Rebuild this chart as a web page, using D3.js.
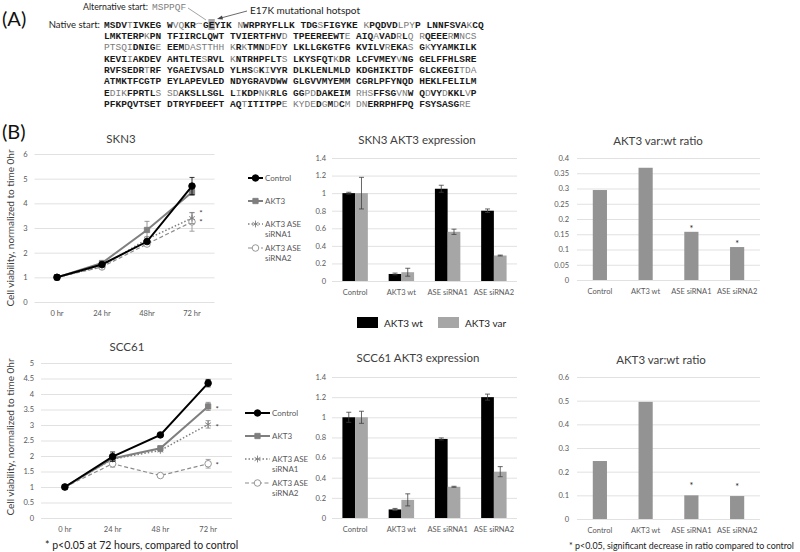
<!DOCTYPE html>
<html>
<head>
<meta charset="utf-8">
<script src="https://cdn.jsdelivr.net/npm/d3@7"></script>
<style>
body { margin: 0; background: #fff; }
svg text { font-family: Lato, "Open Sans", sans-serif; }
svg .seq text { font-family: "Liberation Mono", "Courier New", monospace; font-size: 9.5px; }
</style>
</head>
<body>
<div id="figure"></div>
<script>
// (A) sequence: upper case = bold residue, lower case = faint residue
const altStart = "MSPPQF";
const nativeStart = "MSDVtIVKEG WvqKR";
const seqRows = [
  "GEYIK nWRPRYFLLK TDGsFIGYKE kPQDVDlpyP LNNFSVAkCQ",
  "LMKTERPkPN TFIIRCLQWT TVIERTFHVd TPEEREEWTe AIQaVADrLq rQEEErMncs",
  "ptsqiDNIGe EEMdastthh kRkTMNdFdY LKLLGKGTFG KVILVrEKAs GkYYAMKILK",
  "KEVIiAKDEV AHTLTEsRVL kNTRHPFLTs LKYSFQTkDR LCFVMEYvNG GELFFHLSRE",
  "RVFSEDRtRF YGAEIVSALD YLHSgKiVYR DLKLENLMLD KDGHIKITDF GLCKEGItda",
  "ATMKTFCGTP EYLAPEVLED NDYGRAVDWW GLGVVMYEMM CGRLPFYNQD HEKLFELILM",
  "EdikFPRTLs sdAKSLLSGL LiKDPnkRLG GGpdDAKEIM rhsFFSGvnW QdVYdKKLvP",
  "PFKPQVTSET DTRYFDEEFT AQtITITPPe kydeDgMdCm dnERRPHFPQ FSYSASGre"
];

// (B) growth curves
const timeSkn3 = ["0 hr", "24 hr", "48hr", "72 hr"];
const timeScc61 = ["0 hr", "24 hr", "48 hr", "72 hr"];
const seriesNames = ["Control", "AKT3", "AKT3 ASE siRNA1", "AKT3 ASE siRNA2"];
const growthTicksSkn3 = [0, 1, 2, 3, 4, 5, 6];
const growthTicksScc61 = [0, 0.5, 1, 1.5, 2, 2.5, 3, 3.5, 4, 4.5, 5];

const skn3Control = [1.0, 1.52, 2.45, 4.7];
const skn3ControlErr = [0.1, 0.05, 0.08, 0.35];
const skn3Akt3 = [1.0, 1.58, 2.92, 4.45];
const skn3Akt3Err = [0.06, 0.05, 0.35, 0.12];
const skn3Si1 = [1.0, 1.45, 2.55, 3.4];
const skn3Si1Err = [0.05, 0.04, 0.1, 0.22];
const skn3Si2 = [1.0, 1.42, 2.35, 3.25];
const skn3Si2Err = [0.05, 0.04, 0.08, 0.38];
const skn3Stars = [false, false, true, true];

const scc61Control = [1.0, 1.98, 2.68, 4.35];
const scc61ControlErr = [0.03, 0.15, 0.04, 0.12];
const scc61Akt3 = [1.0, 1.92, 2.25, 3.6];
const scc61Akt3Err = [0.03, 0.05, 0.06, 0.13];
const scc61Si1 = [1.0, 1.9, 2.18, 3.02];
const scc61Si1Err = [0.03, 0.05, 0.04, 0.12];
const scc61Si2 = [1.0, 1.75, 1.37, 1.75];
const scc61Si2Err = [0.03, 0.11, 0.02, 0.14];
const scc61Stars = [false, true, true, true];

// expression bars
const exprCats = ["Control", "AKT3 wt", "ASE siRNA1", "ASE siRNA2"];
const exprTicks = [0, 0.2, 0.4, 0.6, 0.8, 1, 1.2, 1.4];
const skn3Wt = [1.0, 0.08, 1.05, 0.8];
const skn3WtErr = [0.01, 0.01, 0.04, 0.02];
const skn3Var = [1.0, 0.1, 0.56, 0.29];
const skn3VarErr = [0.18, 0.045, 0.03, 0.005];
const scc61Wt = [1.0, 0.085, 0.785, 1.2];
const scc61WtErr = [0.05, 0.01, 0.01, 0.03];
const scc61Var = [1.0, 0.18, 0.31, 0.46];
const scc61VarErr = [0.06, 0.06, 0.005, 0.05];

// var:wt ratio
const ratioTicksSkn3 = [0, 0.05, 0.1, 0.15, 0.2, 0.25, 0.3, 0.35, 0.4];
const ratioTicksScc61 = [0, 0.1, 0.2, 0.3, 0.4, 0.5, 0.6];
const skn3Ratio = [0.295, 0.368, 0.158, 0.108];
const scc61Ratio = [0.245, 0.495, 0.1, 0.097];
const ratioStars = [false, false, true, true];

const svg = d3.select("#figure").append("svg")
  .attr("width", 800)
  .attr("height", 552);

const fmt = d => String(+d.toFixed(2));
const gridColor = "#d9d9d9";
const tickColor = "#595959";

// ---------- panel A ----------
const seq = svg.append("g").attr("class", "seq");
const cw = 5.73;

function drawResidues(str, x0, yb) {
  const chars = str.split("").map((c, i) => ({c: c, i: i})).filter(d => d.c !== " ");
  seq.append("g").selectAll("text")
    .data(chars)
    .join("text")
    .attr("x", d => x0 + d.i * cw)
    .attr("y", yb)
    .attr("font-weight", d => d.c === d.c.toUpperCase() ? "bold" : "normal")
    .attr("fill", d => d.c === d.c.toUpperCase() ? "#1a1a1a" : "#7a7a7a")
    .text(d => d.c.toUpperCase());
}

const rowY = i => 27.5 + i * 11.36;

// E17K highlight box
seq.append("rect")
  .attr("x", 203 + cw - 0.3).attr("y", rowY(0) - 8.5)
  .attr("width", cw + 0.6).attr("height", 11)
  .attr("fill", "#a6a6a6");

drawResidues(nativeStart, 104, rowY(0));
drawResidues(seqRows[0], 203, rowY(0));
seqRows.slice(1).forEach((r, i) => drawResidues(r, 104, rowY(i + 1)));

svg.append("text").attr("x", 2).attr("y", 26).attr("font-size", 20).attr("fill", "#111").text("(A)");

svg.append("text").attr("x", 100).attr("y", rowY(0)).attr("text-anchor", "end")
  .attr("font-size", 9.5).attr("fill", "#222").text("Native start:");

svg.append("text").attr("x", 83).attr("y", 9.5)
  .attr("font-size", 8.8).attr("fill", "#222").text("Alternative start:");
seq.append("text").attr("x", 152).attr("y", 9.5).attr("fill", "#808080").text(altStart);

svg.append("text").attr("x", 250).attr("y", 13.5)
  .attr("font-size", 10).attr("fill", "#222").text("E17K mutational hotspot");

// connector lines
svg.append("path").attr("d", "M188,8 L206,20").attr("stroke", "#8c8c8c").attr("stroke-width", 0.8).attr("fill", "none");
svg.append("path").attr("d", "M195,24.5 Q198,22.5 202,23.5").attr("stroke", "#8c8c8c").attr("stroke-width", 0.8).attr("fill", "none");
svg.append("path").attr("d", "M247,11 L219,18.5").attr("stroke", "#444").attr("stroke-width", 0.8).attr("fill", "none");
svg.append("path").attr("d", "M217,19 L222,15.6 L223,19.4 Z").attr("fill", "#444");

// ---------- panel B ----------
svg.append("text").attr("x", 2).attr("y", 139).attr("font-size", 20).attr("fill", "#111").text("(B)");

const styles = [
  {color: "#000000", width: 2, dash: null, symbol: d3.symbolCircle, size: 34, fill: "#000000"},
  {color: "#7f7f7f", width: 2, dash: null, symbol: d3.symbolSquare, size: 28, fill: "#7f7f7f"},
  {color: "#7f7f7f", width: 1.5, dash: "1.5,2", symbol: d3.symbolAsterisk, size: 32, fill: "none"},
  {color: "#8c8c8c", width: 1.2, dash: "4,2.5", symbol: d3.symbolCircle, size: 34, fill: "#ffffff"}
];

function yGrid(g, y, ticks, x0, x1, pad) {
  g.append("g")
    .attr("transform", `translate(${x0},0)`)
    .call(d3.axisLeft(y).tickValues(ticks).tickSize(-(x1 - x0)).tickPadding(pad).tickFormat(fmt))
    .call(a => a.select(".domain").remove())
    .call(a => a.selectAll("line").attr("stroke", gridColor).attr("stroke-width", 0.8))
    .call(a => a.selectAll("text").attr("fill", tickColor).attr("font-size", 7.5));
}

function title(txt, x, y) {
  svg.append("text").attr("x", x).attr("y", y).attr("text-anchor", "middle")
    .attr("font-size", 11.5).attr("fill", "#404040").text(txt);
}

function drawGrowth(o) {
  const g = svg.append("g");
  const x = d3.scalePoint().domain(o.labels).range([o.x0, o.x1]).padding(0.5);
  const y = d3.scaleLinear().domain([0, d3.max(o.ticks)]).range([o.y0, o.y1]);

  // Add Y grid
  yGrid(g, y, o.ticks, o.x0, o.x1, 7);

  // Add X labels
  g.append("g").selectAll("text")
    .data(o.labels)
    .join("text")
    .attr("x", d => x(d))
    .attr("y", o.y0 + 14)
    .attr("text-anchor", "middle")
    .attr("font-size", 7.5)
    .attr("fill", tickColor)
    .text(d => d);

  title(o.title, o.titleX, o.titleY);

  svg.append("text")
    .attr("transform", `translate(14,${o.labelY}) rotate(-90)`)
    .attr("text-anchor", "middle")
    .attr("font-size", 10)
    .attr("fill", "#404040")
    .text("Cell viability, normalized to time 0hr");

  // draw series back to front
  [3, 2, 1, 0].forEach(k => {
    const s = styles[k];
    const vals = o.series[k], errs = o.errors[k];
    const pts = vals.map((v, i) => ({t: o.labels[i], v: v, e: errs[i]}));

    // error bars
    const eb = g.append("g").attr("stroke", s.color).attr("stroke-width", 0.8);
    pts.forEach(p => {
      eb.append("line").attr("x1", x(p.t)).attr("x2", x(p.t)).attr("y1", y(p.v - p.e)).attr("y2", y(p.v + p.e));
      eb.append("line").attr("x1", x(p.t) - 2.5).attr("x2", x(p.t) + 2.5).attr("y1", y(p.v - p.e)).attr("y2", y(p.v - p.e));
      eb.append("line").attr("x1", x(p.t) - 2.5).attr("x2", x(p.t) + 2.5).attr("y1", y(p.v + p.e)).attr("y2", y(p.v + p.e));
    });

    g.append("path")
      .datum(pts)
      .attr("fill", "none")
      .attr("stroke", s.color)
      .attr("stroke-width", s.width)
      .attr("stroke-dasharray", s.dash)
      .attr("d", d3.line().x(p => x(p.t)).y(p => y(p.v)));

    g.append("g").selectAll("path")
      .data(pts)
      .join("path")
      .attr("transform", p => `translate(${x(p.t)},${y(p.v)})`)
      .attr("d", d3.symbol().type(s.symbol).size(s.size))
      .attr("fill", s.fill)
      .attr("stroke", s.color)
      .attr("stroke-width", 0.9);
  });

  // significance stars at 72 hr
  const last = o.labels[o.labels.length - 1];
  o.series.forEach((vals, k) => {
    if (!o.stars[k]) return;
    g.append("text")
      .attr("x", x(last) + 9)
      .attr("y", y(vals[vals.length - 1]) + o.starDy[k] + 4)
      .attr("text-anchor", "middle")
      .attr("font-size", 8)
      .attr("fill", "#404040")
      .text("*");
  });

  // legend
  seriesNames.forEach((name, k) => {
    const s = styles[k];
    const ly = o.legendY[k];
    const lg = svg.append("g");
    lg.append("line")
      .attr("x1", o.legendX).attr("x2", o.legendX + o.legendLen)
      .attr("y1", ly).attr("y2", ly)
      .attr("stroke", s.color).attr("stroke-width", s.width).attr("stroke-dasharray", s.dash);
    lg.append("path")
      .attr("transform", `translate(${o.legendX + o.legendLen / 2},${ly})`)
      .attr("d", d3.symbol().type(s.symbol).size(s.size))
      .attr("fill", s.fill).attr("stroke", s.color).attr("stroke-width", 0.9);
    const lines = name.length > 8 ? ["AKT3 ASE", name.split(" ")[2]] : [name];
    lines.forEach((t, j) => {
      lg.append("text")
        .attr("x", o.legendX + o.legendLen + 2)
        .attr("y", ly + 3 + j * 10)
        .attr("font-size", 8)
        .attr("fill", tickColor)
        .text(t);
    });
  });
}

function catLabels(g, x, y0, dy) {
  g.append("g").selectAll("text")
    .data(exprCats)
    .join("text")
    .attr("x", d => x(d) + x.bandwidth() / 2)
    .attr("y", y0 + dy)
    .attr("text-anchor", "middle")
    .attr("font-size", 7.5)
    .attr("fill", tickColor)
    .text(d => d);
}

function errBar(g, cx, y, v, e) {
  g.append("line").attr("x1", cx).attr("x2", cx).attr("y1", y(v - e)).attr("y2", y(v + e));
  g.append("line").attr("x1", cx - 2.5).attr("x2", cx + 2.5).attr("y1", y(v + e)).attr("y2", y(v + e));
  g.append("line").attr("x1", cx - 2.5).attr("x2", cx + 2.5).attr("y1", y(v - e)).attr("y2", y(v - e));
}

function drawExpression(o) {
  const g = svg.append("g");
  const x = d3.scaleBand().domain(exprCats).range([o.x0, o.x1]).paddingInner(0.45).paddingOuter(0.225);
  const xs = d3.scaleBand().domain(["wt", "var"]).range([0, x.bandwidth()]);
  const y = d3.scaleLinear().domain([0, 1.4]).range([o.y0, o.y1]);

  yGrid(g, y, exprTicks, o.x0, o.x1, 6);

  const rows = exprCats.map((c, i) => [
    {c: c, k: "wt", v: o.wt[i], e: o.wtErr[i]},
    {c: c, k: "var", v: o.var[i], e: o.varErr[i]}
  ]).flat();

  g.append("g").selectAll("rect")
    .data(rows)
    .join("rect")
    .attr("x", d => x(d.c) + xs(d.k))
    .attr("y", d => y(d.v))
    .attr("width", xs.bandwidth())
    .attr("height", d => y(0) - y(d.v))
    .attr("fill", d => d.k === "wt" ? "#000000" : "#a6a6a6");

  const eb = g.append("g").attr("stroke", "#404040").attr("stroke-width", 0.8);
  rows.forEach(d => errBar(eb, x(d.c) + xs(d.k) + xs.bandwidth() / 2, y, d.v, d.e));

  catLabels(g, x, o.y0, 14);
  title(o.title, o.titleX, o.titleY);
}

function drawRatio(o) {
  const g = svg.append("g");
  const x = d3.scaleBand().domain(exprCats).range([o.x0, o.x1]).paddingInner(0.69).paddingOuter(0.345);
  const y = d3.scaleLinear().domain([0, d3.max(o.ticks)]).range([o.y0, o.y1]);

  yGrid(g, y, o.ticks, o.x0, o.x1, 8);

  g.append("g").selectAll("rect")
    .data(exprCats.map((c, i) => ({c: c, v: o.values[i], s: ratioStars[i]})))
    .join("rect")
    .attr("x", d => x(d.c))
    .attr("y", d => y(d.v))
    .attr("width", x.bandwidth())
    .attr("height", d => y(0) - y(d.v))
    .attr("fill", "#939393");

  g.append("g").selectAll("text")
    .data(exprCats.map((c, i) => ({c: c, v: o.values[i], s: ratioStars[i]})).filter(d => d.s))
    .join("text")
    .attr("x", d => x(d.c) + x.bandwidth() / 2)
    .attr("y", d => y(d.v) - o.starGap + 5)
    .attr("text-anchor", "middle")
    .attr("font-size", 9)
    .attr("fill", "#222")
    .text("*");

  catLabels(g, x, o.y0, 14);
  title(o.title, o.titleX, o.titleY);
}

// SKN3 row
drawGrowth({
  labels: timeSkn3, ticks: growthTicksSkn3,
  x0: 34.5, x1: 214.5, y0: 302, y1: 154,
  series: [skn3Control, skn3Akt3, skn3Si1, skn3Si2],
  errors: [skn3ControlErr, skn3Akt3Err, skn3Si1Err, skn3Si2Err],
  stars: skn3Stars, starDy: [0, 0, -6, -1],
  title: "SKN3", titleX: 121, titleY: 143, labelY: 228,
  legendX: 248, legendLen: 15, legendY: [178, 201, 224, 248]
});
drawExpression({
  wt: skn3Wt, wtErr: skn3WtErr, var: skn3Var, varErr: skn3VarErr,
  x0: 332, x1: 517, y0: 281, y1: 158,
  title: "SKN3 AKT3 expression", titleX: 417, titleY: 144
});
drawRatio({
  values: skn3Ratio, ticks: ratioTicksSkn3,
  x0: 577, x1: 760, y0: 280, y1: 158, starGap: 5,
  title: "AKT3 var:wt ratio", titleX: 658, titleY: 145
});

// expression legend
const bl = svg.append("g");
[["AKT3 wt", "#000000", 357], ["AKT3 var", "#a6a6a6", 438]].forEach(d => {
  bl.append("rect").attr("x", d[2]).attr("y", 317).attr("width", 21).attr("height", 11).attr("fill", d[1]);
  bl.append("text").attr("x", d[2] + 27).attr("y", 326.5).attr("font-size", 10).attr("fill", "#222").text(d[0]);
});

// SCC61 row
drawGrowth({
  labels: timeScc61, ticks: growthTicksScc61,
  x0: 41, x1: 232, y0: 518, y1: 363,
  series: [scc61Control, scc61Akt3, scc61Si1, scc61Si2],
  errors: [scc61ControlErr, scc61Akt3Err, scc61Si1Err, scc61Si2Err],
  stars: scc61Stars, starDy: [0, 2, 2, 0],
  title: "SCC61", titleX: 127, titleY: 351, labelY: 437,
  legendX: 245, legendLen: 25, legendY: [413, 436, 459, 483]
});
drawExpression({
  wt: scc61Wt, wtErr: scc61WtErr, var: scc61Var, varErr: scc61VarErr,
  x0: 332, x1: 517, y0: 518, y1: 377,
  title: "SCC61 AKT3 expression", titleX: 418, titleY: 362
});
drawRatio({
  values: scc61Ratio, ticks: ratioTicksScc61,
  x0: 577, x1: 760, y0: 519, y1: 377, starGap: 11,
  title: "AKT3 var:wt ratio", titleX: 661, titleY: 364
});

// footnotes
svg.append("text").attr("x", 45).attr("y", 549).attr("font-size", 10.5).attr("fill", "#222")
  .text("* p<0.05 at 72 hours, compared to control");
svg.append("text").attr("x", 569).attr("y", 549).attr("font-size", 8.9).attr("fill", "#222")
  .text("* p<0.05, significant decrease in ratio compared to control");
</script>
</body>
</html>
